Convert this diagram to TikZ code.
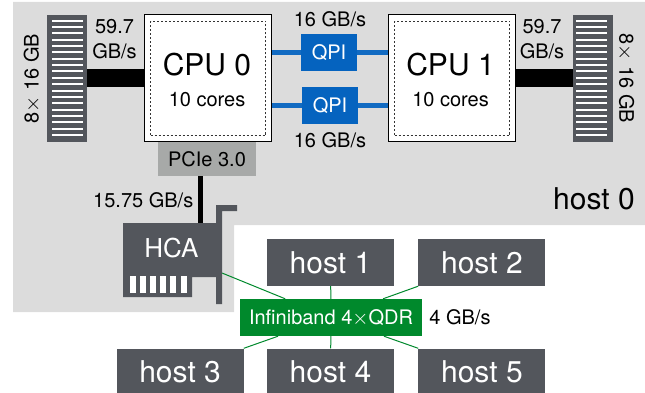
\documentclass[tikz,border=0pt]{standalone}
\usepackage{fontspec}
\setmainfont{TeX Gyre Heros}
\usetikzlibrary{positioning,backgrounds}
\definecolor{hostgray}{HTML}{DCDCDC}
\definecolor{slate}{HTML}{53565C}
\definecolor{pciegray}{HTML}{A7A9A8}
\definecolor{qpiblue}{HTML}{0563BF}
\definecolor{ibgreen}{HTML}{00892C}
\tikzset{
  label20/.style = {inner sep=0pt, align=center, font=\fontsize{20}{24.5}\selectfont},
  memory/.style = {fill=slate, inner sep=0pt, minimum width=40pt, minimum height=127pt},
  cpu/.style = {draw=black, line width=1pt, fill=white, inner sep=0pt, minimum width=127pt, minimum height=127pt},
  cpuinner/.style = {draw=black!80, line width=1pt, dash pattern=on 2pt off 2pt, inner sep=0pt, minimum width=115pt, minimum height=114pt},
  cpuname/.style = {font=\fontsize{30}{36}\selectfont},
  qpi/.style = {fill=qpiblue, text=white, inner sep=0pt, minimum width=56pt, minimum height=37pt, font=\fontsize{20}{24}\selectfont},
  hostbox/.style = {fill=slate, text=white, inner sep=0pt, minimum width=127pt, minimum height=47pt, font=\fontsize{30}{36}\selectfont},
  membus/.style = {line width=18pt, black},
  qpibus/.style = {line width=4.5pt, qpiblue!95!white},
  ibwire/.style = {line width=1pt, ibgreen},
}
\begin{document}
\begin{tikzpicture}[x=1pt, y=-1pt]
  \useasboundingbox (0,0) rectangle (645,393);
  \begin{scope}[on background layer]
    \fill[hostgray] (13,2) -- (645,2) -- (645,225) -- (234,225) -- (234,312) -- (13,312) -- cycle;
  \end{scope}

  \node[memory] (m0) at (67,78.5) {};
  \node[cpu, right=57pt of m0] (c0) {};
  \node[cpu, right=116pt of c0] (c1) {};
  \node[memory, right=57pt of c1] (m1) {};
  \foreach \i in {0,...,18} {
    \fill[white] (52,{20.7+6.35*\i-1}) rectangle (83,{20.7+6.35*\i+1});
    \fill[white] (576,{20.7+6.35*\i-1}) rectangle (607,{20.7+6.35*\i+1});
  }
  \node[cpuinner] (c0in) at (c0) {};
  \node[cpuinner] (c1in) at (c1) {};

  \node[cpuname] (c0name) at (207,65) {CPU 0};
  \node[label20, below=12pt of c0name] (c0cores) {10 cores};
  \node[cpuname] (c1name) at (450.5,65) {CPU 1};
  \node[label20, below=12pt of c1name] (c1cores) {10 cores};

  \node[qpi] (q0) at (329,52.5) {QPI};
  \node[qpi] (q1) at (330,105.5) {QPI};
  \node[label20] (q0rate) at (330,19) {16 GB/s};
  \node[label20] (q1rate) at (330,140) {16 GB/s};

  \draw[membus] (m0) -- (c0);
  \draw[membus] (c1) -- (m1);
  \draw[qpibus] (q0.west) -- (q0.west -| c0.east);
  \draw[qpibus] (q0.east) -- (q0.east -| c1.west);
  \draw[qpibus] (q1.west) -- (q1.west -| c0.east);
  \draw[qpibus] (q1.east) -- (q1.east -| c1.west);

  \node[label20] (m0rate) at (114.5,39) {59.7\\GB/s};
  \node[label20] (m1rate) at (542,39) {59.7\\GB/s};
  \node[label20, rotate=90] (m0size) at (32,78.5) {8$\times$ 16 GB};
  \node[label20, rotate=-90] (m1size) at (626,78.5) {8$\times$ 16 GB};

  \node[fill=pciegray, label20, minimum width=98pt, minimum height=34pt] (pcie) at (207,159) {PCIe 3.0};
  \node[label20, anchor=east] (pcierate) at (193.5,200) {15.75 GB/s};
  \node[anchor=east, font=\fontsize{30}{36}\selectfont, inner sep=0pt] (h0) at (635,199) {host 0};

  \coordinate (hcatop) at (200.5,223);
  \coordinate (hcaport) at (222,273);
  \draw[line width=5pt] ([xshift=-6.5pt]pcie.south) -- (hcatop);
  \fill[slate] (123,223) -- (216,223) -- (216,205) -- (237,205) -- (237,211) -- (222,211) -- (222,304)
    -- (216,304) -- (216,277) -- (192,277) -- (192,297) -- (123,297) -- cycle;
  \node[text=white, font=\fontsize{26}{30}\selectfont] (hca) at (171.5,248) {HCA};
  \foreach \i in {0,...,5}
    \fill[white] ({129.5+10.2*\i},276) rectangle ++(6,17);

  \node[fill=ibgreen, text=white, inner sep=0pt, minimum width=182pt, minimum height=37pt, font=\fontsize{20}{24}\selectfont] (ib) at (331,317.5) {Infiniband 4$\times$QDR};
  \node[label20, right=7pt of ib] (ibrate) {4 GB/s};

  \node[hostbox] (h1) at (330.5,262.5) {host 1};
  \node[hostbox, right=24pt of h1] (h2) {host 2};
  \node[hostbox] (h4) at (330.5,372) {host 4};
  \node[hostbox, left=23pt of h4] (h3) {host 3};
  \node[hostbox, right=24pt of h4] (h5) {host 5};

  \begin{scope}[on background layer]
    \draw[ibwire] (hcaport) -- (ib);
    \draw[ibwire] (h1) -- (ib);
    \draw[ibwire] (h4) -- (ib);
    \draw[ibwire] (h2.south west) -- (ib);
    \draw[ibwire] (h3.north east) -- (ib);
    \draw[ibwire] (h5.north west) -- (ib);
  \end{scope}
\end{tikzpicture}
\end{document}
